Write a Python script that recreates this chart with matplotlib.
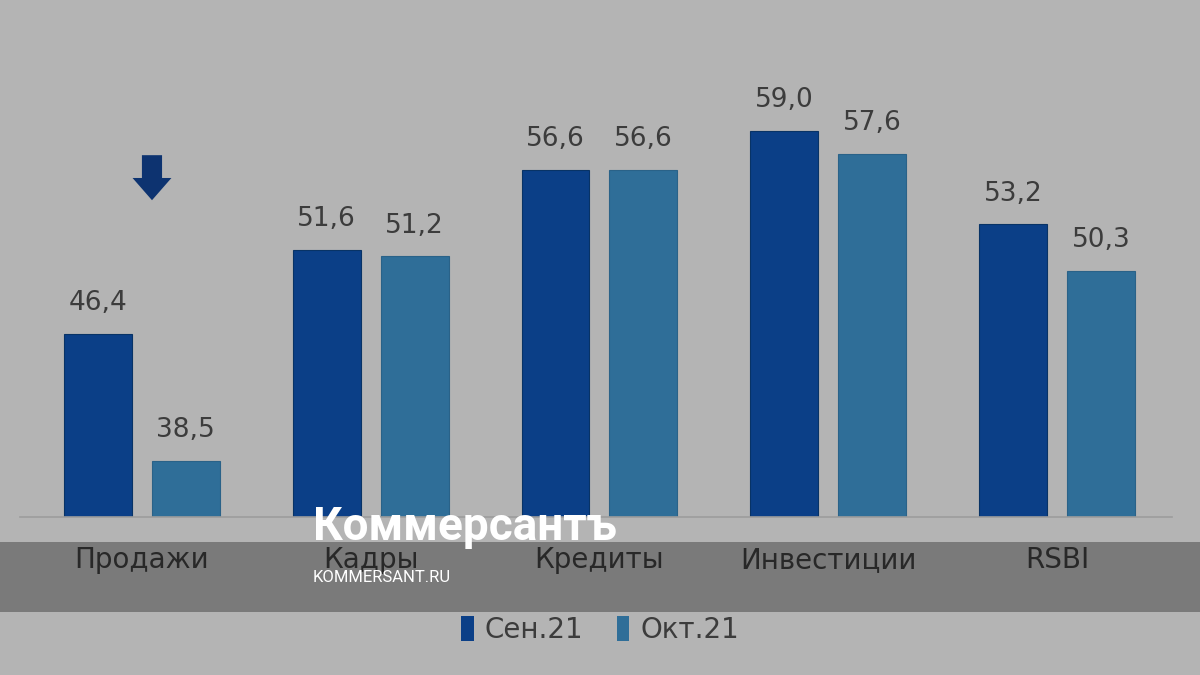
import numpy as np
import matplotlib
matplotlib.use("Agg")
import matplotlib.pyplot as plt
from matplotlib.patches import Rectangle, Patch


# === DATA ===
categories = ["Продажи", "Кадры", "Кредиты", "Инвестиции", "RSBI"]
sep_21 = [46.4, 51.6, 56.6, 59.0, 53.2]
oct_21 = [38.5, 51.2, 56.6, 57.6, 50.3]
series_names = ["Сен.21", "Окт.21"]

# === STYLE ===
BG = "#b4b4b4"
DARK = "#0b3f87"
LIGHT = "#2f6e98"
TEXT = "#3c3c3c"

plt.rcParams["font.family"] = ["DejaVu Sans"]

fig = plt.figure(figsize=(12, 6.75), dpi=100, facecolor=BG)
ax = fig.add_axes([20 / 1200, 158 / 675, 1152 / 1200, 517 / 675])
ax.set_facecolor(BG)

x = np.arange(len(categories))
w = 0.297
off = 0.192

b1 = ax.bar(x - off, sep_21, w, color=DARK, edgecolor="#083366", linewidth=0.8)
b2 = ax.bar(x + off, oct_21, w, color=LIGHT, edgecolor="#2a6288", linewidth=0.8)

ax.set_ylim(35, 67.15)
ax.set_xlim(-0.533, 4.503)

for bars, vals in [(b1, sep_21), (b2, oct_21)]:
    for r, v in zip(bars, vals):
        ax.text(r.get_x() + r.get_width() / 2, v + 1.1, f"{v:.1f}".replace(".", ","),
                ha="center", va="bottom", fontsize=19, color=TEXT)

# down arrow over the first group (sales fell)
ax.annotate("", xy=(0.044, 54.7), xytext=(0.044, 57.5),
            arrowprops=dict(arrowstyle="simple,head_width=2.8,head_length=1.6,tail_width=1.45",
                            color="#0d3370", lw=0, shrinkA=0, shrinkB=0))

for s in ["top", "left", "right"]:
    ax.spines[s].set_visible(False)
ax.spines["bottom"].set_color("#9c9c9c")
ax.spines["bottom"].set_linewidth(1.2)
ax.set_yticks([])
ax.set_xticks(x)
ax.set_xticklabels(categories, fontsize=20, color=TEXT)
ax.tick_params(axis="x", length=0, pad=21)

handles = [Patch(facecolor=DARK), Patch(facecolor=LIGHT)]
fig.legend(handles, series_names, loc="center", bbox_to_anchor=(0.5, 45 / 675), ncol=2,
           frameon=False, fontsize=20, handlelength=0.45, handleheight=1.0,
           handletextpad=0.4, columnspacing=1.2, labelcolor=TEXT)

# watermark band
fig.patches.append(Rectangle((0, 63 / 675), 1, 70 / 675, transform=fig.transFigure,
                             facecolor="black", alpha=0.32, zorder=5))
fig.text(313 / 1200, (675 - 527) / 675, "Коммерсантъ", fontsize=33, fontweight="bold",
         family=["Roboto", "DejaVu Sans"], color="white", va="center", ha="left", zorder=6)
fig.text(313 / 1200, (675 - 577) / 675, "KOMMERSANT.RU", fontsize=12,
         family=["Roboto", "DejaVu Sans"], color="white", va="center", ha="left", zorder=6)

fig.savefig("out.png", dpi=100, facecolor=BG)
